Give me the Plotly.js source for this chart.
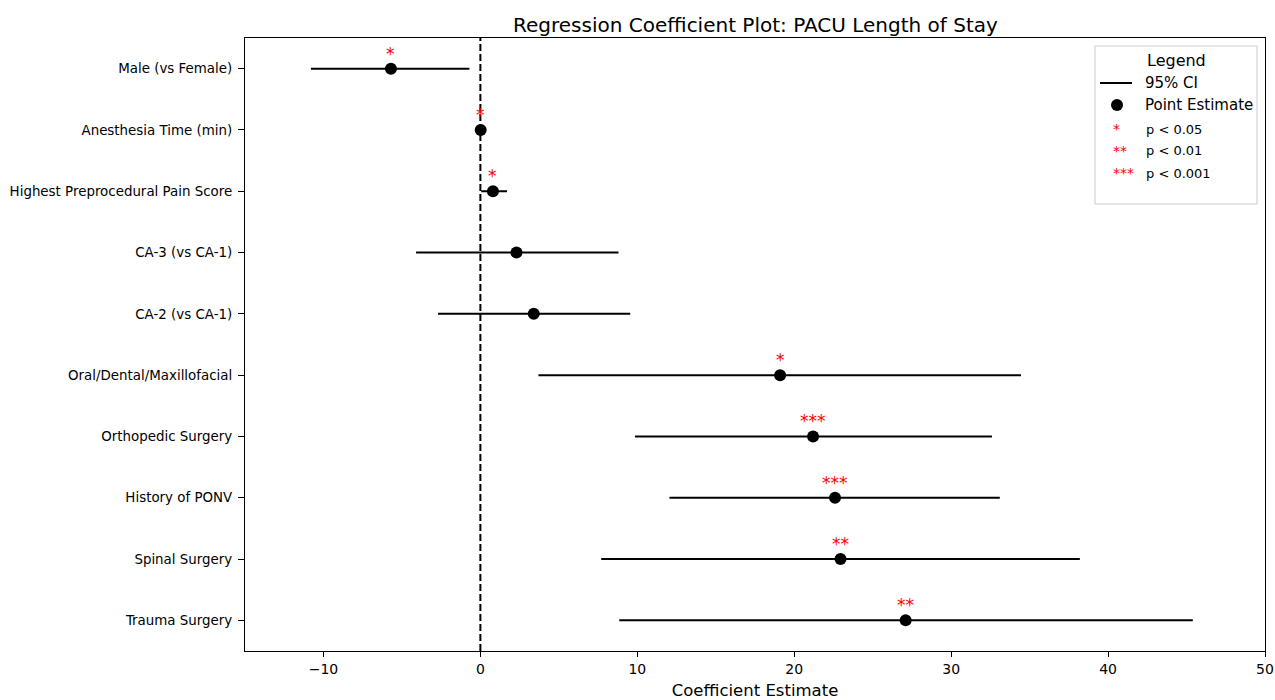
<!DOCTYPE html>
<html><head><meta charset="utf-8">
<script src="https://cdn.plot.ly/plotly-3.0.1.min.js"></script>
<style>body{margin:0;background:#fff}#chart{width:1275px;height:700px}</style>
</head><body><div id="chart"></div>
<script>
const variables = ["Male (vs Female)","Anesthesia Time (min)","Highest Preprocedural Pain Score","CA-3 (vs CA-1)","CA-2 (vs CA-1)","Oral/Dental/Maxillofacial","Orthopedic Surgery","History of PONV","Spinal Surgery","Trauma Surgery"];
const estimates = [-5.7, 0.02, 0.8, 2.3, 3.4, 19.1, 21.2, 22.6, 22.95, 27.1];
const ciLower = [-10.8, -0.03, 0.05, -4.1, -2.7, 3.7, 9.85, 12.05, 7.7, 8.85];
const ciUpper = [-0.7, 0.07, 1.7, 8.8, 9.55, 34.45, 32.6, 33.1, 38.2, 45.4];
const significance = ["*","*","*","","","*","***","***","**","**"];
const legendStars = ["*","**","***"];
const legendLabels = ["p < 0.05","p < 0.01","p < 0.001"];

const font = "DejaVu Sans, sans-serif";
const traces = [
  {type:'scatter', mode:'markers', x:estimates, y:variables, showlegend:false,
   marker:{color:'black', size:12},
   error_x:{type:'data', symmetric:false,
     array: ciUpper.map((u,i)=>u-estimates[i]),
     arrayminus: estimates.map((e,i)=>e-ciLower[i]),
     thickness:2, width:0, color:'black'}}
];

// legend (paper coords; plot area px: x 245..1265, y 38..651)
const px = x => (x-245)/1020, py = y => (651-y)/613;
const shapes = [
  {type:'line', xref:'x', yref:'paper', x0:0, x1:0, y0:0, y1:1, line:{color:'black', width:2, dash:'7px,3px'}},
  {type:'rect', xref:'paper', yref:'paper', x0:px(1095), x1:px(1257), y0:py(204), y1:py(46),
   line:{color:'#cccccc', width:1}, fillcolor:'rgba(255,255,255,0.8)'},
  {type:'line', xref:'paper', yref:'paper', x0:px(1100), x1:px(1132), y0:py(83), y1:py(83), line:{color:'black', width:2}},
  {type:'circle', xref:'paper', yref:'paper', x0:px(1111), x1:px(1123), y0:py(111), y1:py(99), fillcolor:'black', line:{color:'black', width:0}}
];
const annotations = [];
significance.forEach((s,i)=>{
  if (!s) return;
  annotations.push({xref:'x', yref:'y', x:estimates[i], y:variables[i], text:s, showarrow:false,
    font:{family:font, size:17, color:'red'}, xanchor:'center', yanchor:'middle', yshift:15});
});
annotations.push(
  {xref:'paper', yref:'paper', x:px(1176), y:py(61), text:'Legend', showarrow:false, font:{family:font, size:16, color:'black'}, xanchor:'center', yanchor:'middle'},
  {xref:'paper', yref:'paper', x:px(1143), y:py(83), text:'95% CI', showarrow:false, font:{family:font, size:15, color:'black'}, xanchor:'left', yanchor:'middle'},
  {xref:'paper', yref:'paper', x:px(1143), y:py(105), text:'Point Estimate', showarrow:false, font:{family:font, size:15, color:'black'}, xanchor:'left', yanchor:'middle'}
);
legendStars.forEach((s,i)=>{
  const yy = 129 + 22*i;
  annotations.push({xref:'paper', yref:'paper', x:px(1111), y:py(yy+0), text:s, showarrow:false, font:{family:font, size:14, color:'red'}, xanchor:'left', yanchor:'middle'});
  annotations.push({xref:'paper', yref:'paper', x:px(1144), y:py(yy), text:legendLabels[i], showarrow:false, font:{family:font, size:13, color:'black'}, xanchor:'left', yanchor:'middle'});
});

const layout = {
  width:1275, height:700,
  margin:{l:245, r:10, t:38, b:49},
  paper_bgcolor:'white', plot_bgcolor:'white',
  font:{family:font, color:'black'},
  title:{text:'Regression Coefficient Plot: PACU Length of Stay', font:{family:font, size:20, color:'black'}, x:0.5925, xanchor:'center', y:0.965, yanchor:'middle'},
  xaxis:{range:[-15,50], tickvals:[-10,0,10,20,30,40,50], showgrid:false, zeroline:false,
    showline:true, mirror:true, linecolor:'black', linewidth:1.2, ticks:'outside', ticklen:5, tickcolor:'black',
    tickfont:{family:font, size:14}, title:{text:'Coefficient Estimate', font:{family:font, size:16.5}, standoff:9}},
  yaxis:{type:'category', categoryorder:'array', categoryarray:variables, range:[9.5,-0.5], showgrid:false, zeroline:false,
    showline:true, mirror:true, linecolor:'black', linewidth:1.2, ticks:'outside', ticklen:6, tickcolor:'black',
    ticklabelstandoff:3, tickfont:{family:font, size:13.4}},
  shapes:shapes, annotations:annotations, showlegend:false
};
Plotly.newPlot('chart', traces, layout, {displayModeBar:false});
</script></body></html>
